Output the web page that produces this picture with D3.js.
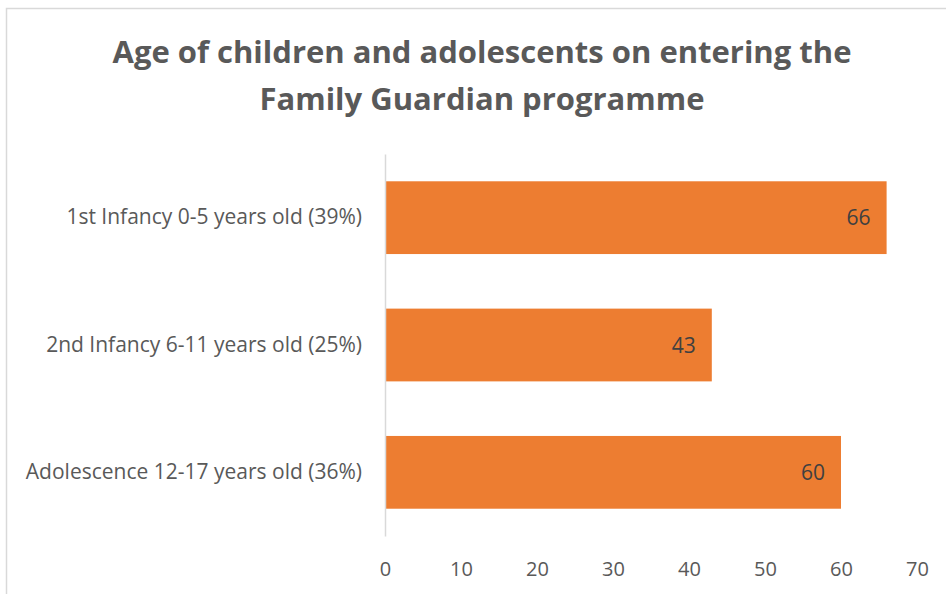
<!DOCTYPE html>
<html>
<head>
<meta charset="utf-8">
<script src="https://cdn.jsdelivr.net/npm/d3@7"></script>
<style>
  html, body { margin: 0; padding: 0; background: #fff; }
  svg { display: block; }
  text { font-family: "Open Sans", "Noto Sans", sans-serif; }
</style>
</head>
<body>
<svg id="chart" width="946" height="594"></svg>
<script>
// Age groups on entry and the number of children in each
const categories = [
  "1st Infancy 0-5 years old (39%)",
  "2nd Infancy 6-11 years old (25%)",
  "Adolescence 12-17 years old (36%)"
];
const counts = [66, 43, 60];
const xTicks = [0, 10, 20, 30, 40, 50, 60, 70];
const titleLines = [
  "Age of children and adolescents on entering the",
  "Family Guardian programme"
];

const svg = d3.select("#chart");
const W = 946, H = 594;

// Chart frame
svg.append("rect")
  .attr("x", 6.5).attr("y", 8.5)
  .attr("width", W + 10).attr("height", H + 10)
  .attr("fill", "#fff")
  .attr("stroke", "#d9d9d9").attr("stroke-width", 1.5);

const plot = { left: 385, right: 917, top: 154, bottom: 536 };

const x = d3.scaleLinear().domain([0, 70]).range([plot.left, plot.right]);
const y = d3.scaleBand()
  .domain(categories)
  .range([plot.top, plot.bottom])
  .paddingInner(0.75 / 1.75)
  .paddingOuter(0.375 / 1.75);

// Title
svg.append("g")
  .selectAll("text")
  .data(titleLines)
  .join("text")
  .attr("x", 482)
  .attr("y", (d, i) => 63 + i * 47)
  .attr("text-anchor", "middle")
  .attr("font-size", 31)
  .attr("font-weight", "bold")
  .attr("fill", "#595959")
  .text(d => d);

// Bars
svg.append("g")
  .selectAll("rect")
  .data(counts)
  .join("rect")
  .attr("x", x(0))
  .attr("y", (d, i) => y(categories[i]))
  .attr("width", d => x(d) - x(0))
  .attr("height", y.bandwidth())
  .attr("fill", "#ed7d31");

// Value labels inside bar ends
svg.append("g")
  .selectAll("text")
  .data(counts)
  .join("text")
  .attr("x", d => x(d) - 16)
  .attr("y", (d, i) => y(categories[i]) + y.bandwidth() / 2)
  .attr("dy", "0.36em")
  .attr("text-anchor", "end")
  .attr("font-size", 21)
  .attr("fill", "#404040")
  .text(d => d);

// Vertical category axis
const yAxis = svg.append("g")
  .attr("transform", `translate(${plot.left},0)`)
  .call(d3.axisLeft(y).tickSize(0).tickPadding(23));
yAxis.select(".domain").attr("stroke", "#d9d9d9").attr("stroke-width", 1.5);
yAxis.selectAll("text")
  .attr("font-size", 21)
  .attr("fill", "#595959")
  .style("font-family", '"Open Sans", sans-serif');

// Horizontal value axis (labels only)
const xAxis = svg.append("g")
  .attr("transform", `translate(0,${plot.bottom})`)
  .call(d3.axisBottom(x).tickValues(xTicks).tickSize(0).tickPadding(26));
xAxis.select(".domain").remove();
xAxis.selectAll("text")
  .attr("font-size", 20)
  .attr("fill", "#595959")
  .style("font-family", '"Open Sans", sans-serif');
</script>
</body>
</html>
